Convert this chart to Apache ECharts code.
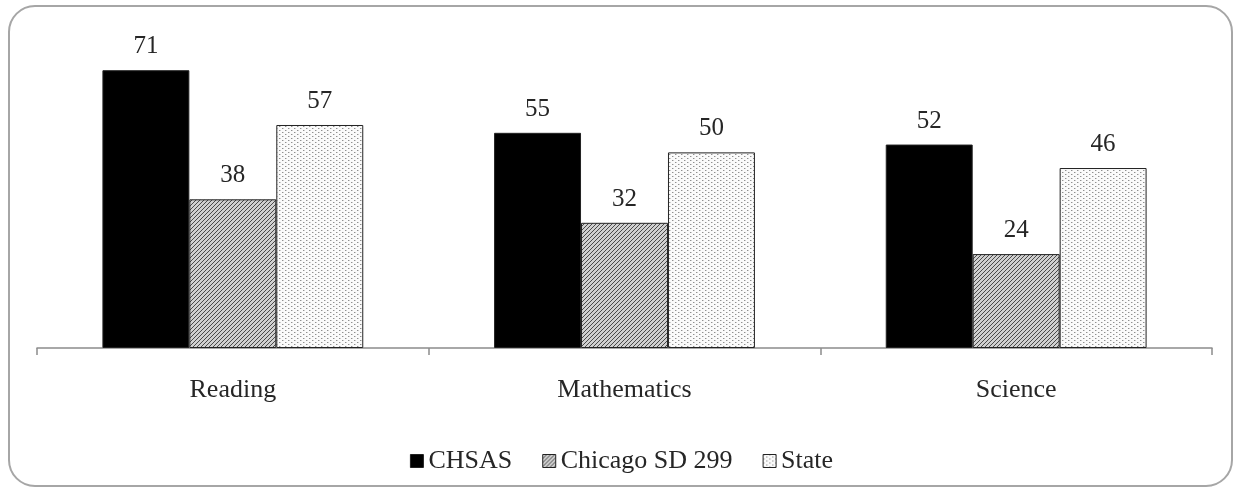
<!DOCTYPE html>
<html>
<head>
<meta charset="utf-8">
<style>
  html, body { margin: 0; padding: 0; background: #fff; }
  #chart { width: 1243px; height: 490px; }
</style>
<script src="https://cdn.jsdelivr.net/npm/echarts@6/dist/echarts.min.js"></script>
</head>
<body>
<div id="chart"></div>
<script>
const categories = ['Reading', 'Mathematics', 'Science'];
const seriesNames = ['CHSAS', 'Chicago SD 299', 'State'];
const chsas = [71, 55, 52];
const chicago = [38, 32, 24];
const state = [57, 50, 46];

// Fill patterns: diagonal hatch and fine dot grid
function hatchPattern() {
  const c = document.createElement('canvas');
  c.width = 4; c.height = 4;
  const g = c.getContext('2d');
  g.fillStyle = '#d0d0d0';
  g.fillRect(0, 0, 4, 4);
  g.strokeStyle = '#4a4a4a';
  g.lineWidth = 1;
  g.beginPath();
  g.moveTo(-1, 5); g.lineTo(5, -1);
  g.moveTo(-1, 1); g.lineTo(1, -1);
  g.moveTo(3, 5); g.lineTo(5, 3);
  g.stroke();
  return c;
}
function dotPattern() {
  const c = document.createElement('canvas');
  c.width = 6; c.height = 4;
  const g = c.getContext('2d');
  g.fillStyle = '#fafafa';
  g.fillRect(0, 0, 6, 4);
  g.fillStyle = '#8f8f8f';
  g.fillRect(0, 0, 1, 1);
  g.fillRect(3, 2, 1, 1);
  g.fillStyle = '#cdcdcd';
  g.fillRect(1, 0, 1, 1);
  g.fillRect(4, 2, 1, 1);
  return c;
}

const fills = [
  '#000',
  { image: hatchPattern(), repeat: 'repeat' },
  { image: dotPattern(), repeat: 'repeat' }
];
const dataSets = [chsas, chicago, state];
const font = '"Liberation Serif", "Times New Roman", serif';
const textColor = '#262626';

const chart = echarts.init(document.getElementById('chart'), null, { renderer: 'canvas' });
chart.setOption({
  backgroundColor: '#fff',
  animation: false,
  graphic: [{
    type: 'rect',
    shape: { x: 9, y: 6, width: 1223, height: 480, r: 26 },
    style: { fill: 'none', stroke: '#a6a6a6', lineWidth: 2 },
    z: -1
  }],
  grid: { left: 37, right: 31, top: 35, bottom: 142 },
  legend: {
    top: 443,
    left: 'center',
    itemWidth: 13,
    itemHeight: 13,
    itemGap: 30,
    textStyle: { fontFamily: font, fontSize: 26, color: textColor },
    data: seriesNames.map((n, i) => ({
      name: n,
      icon: 'rect',
      itemStyle: { color: fills[i], borderColor: '#222', borderWidth: 1 }
    }))
  },
  xAxis: {
    type: 'category',
    data: categories,
    axisLine: { lineStyle: { color: '#8c8c8c', width: 1.5 } },
    axisTick: { show: true, length: 7, lineStyle: { color: '#8c8c8c', width: 1.5 } },
    axisLabel: { fontFamily: font, fontSize: 26, color: textColor, margin: 29 }
  },
  yAxis: {
    type: 'value',
    min: 0,
    max: 80,
    show: false,
    splitLine: { show: false }
  },
  series: seriesNames.map((n, i) => ({
    name: n,
    type: 'bar',
    data: dataSets[i],
    barWidth: '22.2%',
    barGap: '0%',
    itemStyle: { color: fills[i], borderColor: '#222', borderWidth: 1 },
    label: {
      show: true,
      position: 'top',
      distance: 11,
      fontFamily: font,
      fontSize: 25,
      color: textColor
    }
  }))
});
</script>
</body>
</html>
